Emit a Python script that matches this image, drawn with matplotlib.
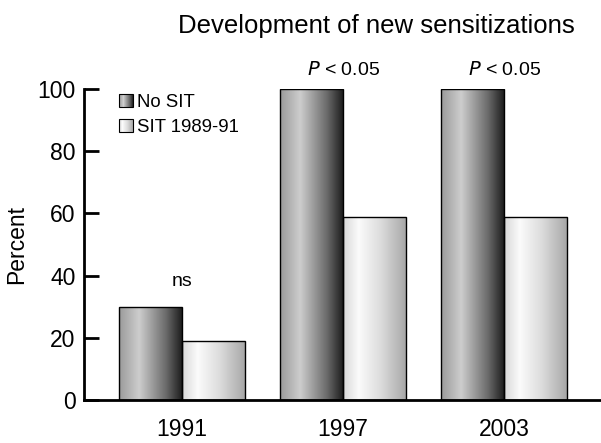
import numpy as np
import matplotlib
matplotlib.use("Agg")
import matplotlib.pyplot as plt
from matplotlib.colors import LinearSegmentedColormap
from matplotlib.patches import Rectangle
from matplotlib.legend_handler import HandlerBase

plt.rcParams["font.family"] = ["Liberation Sans", "DejaVu Sans"]

# ── data ─────────────────────────────────────────────
years = ["1991", "1997", "2003"]
no_sit = [30, 100, 100]
sit = [19, 59, 59]
series_labels = ["No SIT", "SIT 1989-91"]
p_labels = ["ns", "P < 0.05", "P < 0.05"]

# horizontal shading of the bars
dark_cmap = LinearSegmentedColormap.from_list(
    "dark", [(0.0, "#9a9a9a"), (0.32, "#cdcdcd"), (0.75, "#6a6a6a"), (1.0, "#1e1e1e")])
light_cmap = LinearSegmentedColormap.from_list(
    "light", [(0.0, "#d8d8d8"), (0.25, "#fbfbfb"), (0.6, "#dcdcdc"), (1.0, "#a8a8a8")])
grad = np.linspace(0, 1, 256).reshape(1, -1)


def shade_bars(ax, bars, cmap):
    for b in bars:
        x0, y0 = b.get_x(), b.get_y()
        w, h = b.get_width(), b.get_height()
        im = ax.imshow(grad, cmap=cmap, aspect="auto", extent=(x0, x0 + w, y0, y0 + h),
                       zorder=2, interpolation="bilinear")
        im.set_clip_path(b)
        b.set_facecolor("none")
        b.set_zorder(3)


class GradientHandler(HandlerBase):
    def __init__(self, cmap):
        super().__init__()
        self.cmap = cmap

    def create_artists(self, legend, orig_handle, xdescent, ydescent, width, height, fontsize, trans):
        n = 14
        side = height * 1.05
        x0 = -xdescent + (width - side)
        y0 = -ydescent - (side - height) / 2
        arts = []
        for i in range(n):
            arts.append(Rectangle((x0 + i * side / n, y0), side / n + 0.05, side,
                                  facecolor=self.cmap((i + 0.5) / n), edgecolor="none",
                                  transform=trans))
        arts.append(Rectangle((x0, y0), side, side, facecolor="none", edgecolor="black",
                              lw=0.8, transform=trans))
        return arts


fig = plt.figure(figsize=(6.01, 4.43), dpi=100)
ax = fig.add_axes([0.1398, 0.097, 0.8586, 0.702])

x = np.arange(len(years))
w = 0.391
b1 = ax.bar(x - w / 2, no_sit, w, edgecolor="black", linewidth=1.0, label=series_labels[0])
b2 = ax.bar(x + w / 2, sit, w, edgecolor="black", linewidth=1.0, label=series_labels[1])
shade_bars(ax, b1, dark_cmap)
shade_bars(ax, b2, light_cmap)

# significance labels
for i, lab in enumerate(p_labels):
    top = max(no_sit[i], sit[i])
    if lab == "ns":
        ax.text(x[i], top + 8, lab, ha="center", va="center", fontsize=14)
    else:
        ax.text(x[i], top + 6, r"$\it{P}$" + lab[1:], ha="center", va="center", fontsize=14)

ax.set_xlim(-0.609, 2.596)
ax.set_ylim(0, 100)
ax.set_xticks(x)
ax.set_xticklabels(years, fontsize=16.5)
ax.set_yticks([0, 20, 40, 60, 80, 100])
ax.tick_params(axis="y", direction="in", length=11, width=2, labelsize=16.5, pad=6)
ax.tick_params(axis="x", length=0, pad=13)
for s in ["top", "right"]:
    ax.spines[s].set_visible(False)
for s in ["left", "bottom"]:
    ax.spines[s].set_linewidth(2)
ax.set_ylabel("Percent", fontsize=16.5, labelpad=7)

fig.text(0.6265, 0.9255, "Development of new sensitizations", ha="center", va="baseline", fontsize=18.5)

ax.legend([b1, b2], series_labels, handler_map={b1: GradientHandler(dark_cmap),
                                                b2: GradientHandler(light_cmap)},
          loc="upper left", bbox_to_anchor=(0.04, 1.02), frameon=False, fontsize=13.4,
          handlelength=0.9, handletextpad=0.25, labelspacing=0.42, borderaxespad=0.2)

fig.savefig("out.png", dpi=100)
